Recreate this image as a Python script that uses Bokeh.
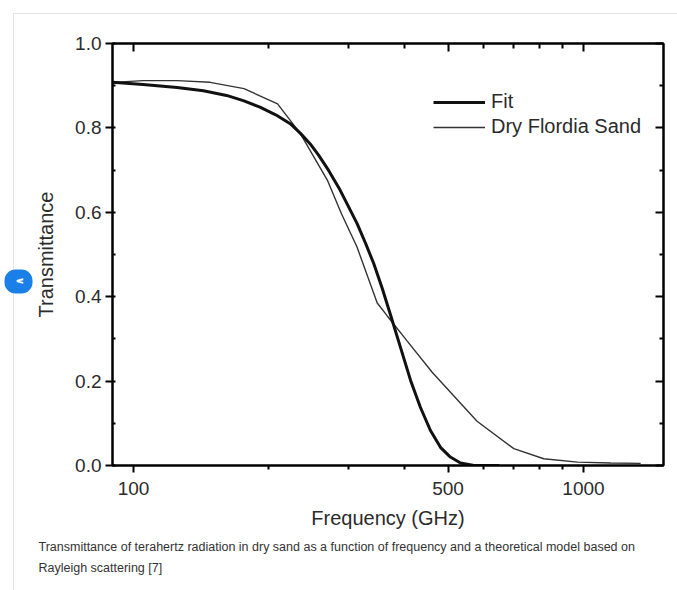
from bokeh.plotting import figure
from bokeh.models import (Range1d, LinearAxis, LogAxis, FixedTicker, Legend,
                          LegendItem, Title)
from bokeh.embed import file_html
from bokeh.resources import INLINE

# ---- data ----
fit_freq = [89.8, 105, 125, 143, 161, 176, 191, 207, 223, 235, 247, 258, 270,
            288, 314, 328, 342, 357, 372, 392, 413, 434, 457, 481, 506, 533,
            571, 650]
fit_T = [0.908, 0.903, 0.896, 0.888, 0.877, 0.864, 0.849, 0.831, 0.810, 0.787,
         0.762, 0.735, 0.703, 0.652, 0.573, 0.526, 0.478, 0.420, 0.359, 0.280,
         0.201, 0.138, 0.083, 0.043, 0.020, 0.006, 0.0, 0.0]

data_freq = [90, 105, 125, 148, 176, 209, 223, 235, 247, 270, 290, 314, 348,
             366, 405, 461, 580, 700, 816, 970, 1150, 1340]
data_T = [0.908, 0.912, 0.912, 0.908, 0.893, 0.857, 0.818, 0.786, 0.746, 0.675,
          0.596, 0.517, 0.385, 0.355, 0.296, 0.221, 0.105, 0.040, 0.016, 0.008,
          0.006, 0.005]

x_major = [100, 500, 1000]
x_major_labels = ["100", "500", "1000"]
x_minor = [200, 300, 400, 600, 700, 800, 900]
y_major = [0.0, 0.2, 0.4, 0.6, 0.8, 1.0]
y_major_labels = ["0.0", "0.2", "0.4", "0.6", "0.8", "1.0"]
y_minor = [0.1, 0.3, 0.5, 0.7, 0.9]

series_names = ["Fit", "Dry Flordia Sand"]
caption_lines = [
    "Transmittance of terahertz radiation in dry sand as a function of frequency and a theoretical model based on",
    "Rayleigh scattering [7]",
]

FONT = "Liberation Sans"
TXT = "#2b2b2b"
BLUE = "#1a7fe8"
EDGE = "#e3e3e3"

p = figure(width=677, height=590, x_axis_type="log",
           x_range=Range1d(89.8, 1506), y_range=Range1d(0, 1.0),
           output_backend="svg", toolbar_location=None,
           min_border_left=112, min_border_right=14,
           min_border_top=43, min_border_bottom=125)
p.grid.visible = False
p.outline_line_color = "black"
p.outline_line_width = 2
p.background_fill_color = "white"
p.border_fill_alpha = 0
# faint card edge of the web page behind the chart (top and left)
p.styles = {
    "background": (f"linear-gradient({EDGE},{EDGE}) 13px 13px / 664px 1px no-repeat, "
                   f"linear-gradient({EDGE},{EDGE}) 13px 13px / 1px 577px no-repeat, "
                   "white"),
}

x_ticker = FixedTicker(ticks=x_major, minor_ticks=x_minor)
y_ticker = FixedTicker(ticks=y_major, minor_ticks=y_minor)

xa = p.xaxis[0]
xa.ticker = x_ticker
xa.major_label_overrides = {v: s for v, s in zip(x_major, x_major_labels)}
xa.axis_label = "Frequency (GHz)"
ya = p.yaxis[0]
ya.ticker = y_ticker
ya.major_label_overrides = {v: s for v, s in zip(y_major, y_major_labels)}
ya.axis_label = "Transmittance"

for ax in (xa, ya):
    ax.axis_line_width = 2
    ax.axis_line_color = "black"
    ax.major_tick_line_width = 2
    ax.minor_tick_line_width = 2
    ax.major_tick_line_color = "black"
    ax.minor_tick_line_color = "black"
    ax.major_label_text_font = FONT
    ax.major_label_text_font_size = "19px"
    ax.major_label_text_color = TXT
    ax.axis_label_text_font = FONT
    ax.axis_label_text_font_size = "20px"
    ax.axis_label_text_font_style = "normal"
    ax.axis_label_text_color = TXT

xa.major_tick_out = 7
xa.major_tick_in = 0
xa.minor_tick_out = 4
xa.minor_tick_in = 0
xa.major_label_standoff = 9
xa.axis_label_standoff = 9

ya.major_tick_out = 7
ya.major_tick_in = 3
ya.minor_tick_out = 0
ya.minor_tick_in = 3
ya.major_label_standoff = 4
ya.axis_label_standoff = 15

# mirrored tick axes on top and right, without labels
top = LogAxis(ticker=x_ticker, major_label_text_font_size="10px",
              major_label_overrides={v: "" for v in x_major},
              major_label_standoff=0, major_tick_in=8, major_tick_out=0,
              minor_tick_in=5, minor_tick_out=0, axis_line_width=2,
              major_tick_line_width=2, minor_tick_line_width=2)
right = LinearAxis(ticker=y_ticker, major_label_text_font_size="10px",
                   major_label_overrides={v: "" for v in y_major},
                   major_label_standoff=0, major_tick_in=8, major_tick_out=0,
                   minor_tick_in=4, minor_tick_out=0, axis_line_width=2,
                   major_tick_line_width=2, minor_tick_line_width=2)
p.add_layout(top, "above")
p.add_layout(right, "right")

r_data = p.line(data_freq, data_T, line_color="#333333", line_width=1.4)
r_fit = p.line(fit_freq, fit_T, line_color="#111111", line_width=3)

legend = Legend(items=[LegendItem(label=series_names[0], renderers=[r_fit]),
                       LegendItem(label=series_names[1], renderers=[r_data])],
                location=(321, 327), padding=0, margin=0, spacing=2,
                glyph_width=52, glyph_height=20, label_height=20,
                label_standoff=6, border_line_alpha=0,
                background_fill_alpha=0, label_text_font=FONT,
                label_text_font_size="20px", label_text_color=TXT)
p.add_layout(legend)

# caption below the chart
for i, line in enumerate(caption_lines):
    p.add_layout(Title(text=line, align="left", offset=-74,
                       standoff=13 if i == 0 else -3,
                       text_font=FONT, text_font_size="12.5px",
                       text_font_style="normal", text_color="#333333"),
                 "below")

# carousel button of the page (left edge)
p.add_layout(Title(text="\u2227", align="left", offset=172, standoff=0,
                   text_font="DejaVu Sans", text_font_size="11px",
                   text_font_style="bold", text_color="white",
                   background_fill_color=BLUE, padding=[8, 7, 8, 7],
                   border_radius=11), "left")

open("out.html", "w").write(file_html(p, INLINE))
